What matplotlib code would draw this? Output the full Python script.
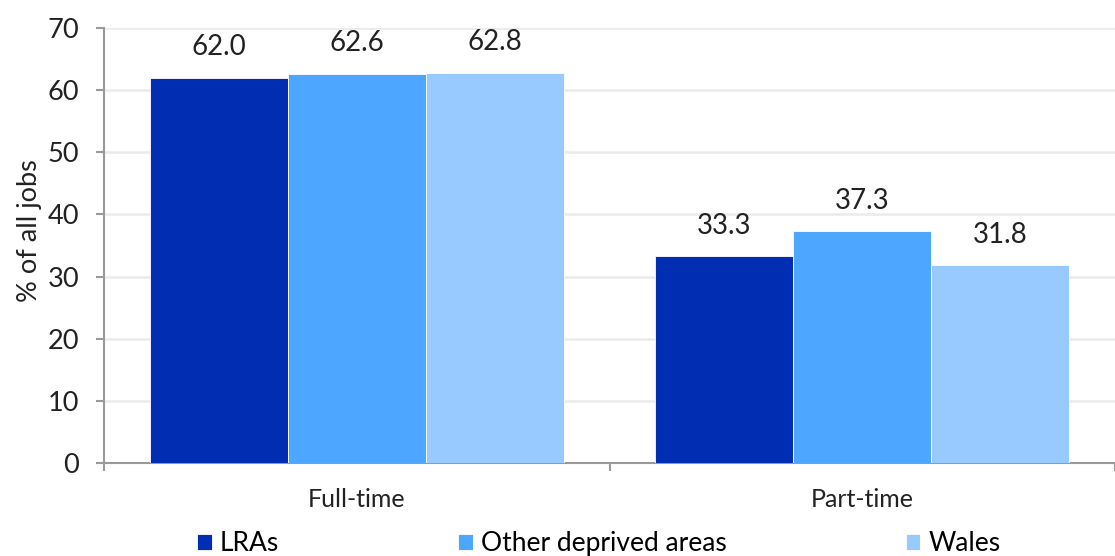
import numpy as np
import matplotlib
matplotlib.use("Agg")
import matplotlib.pyplot as plt

plt.rcParams["font.family"] = ["Lato", "DejaVu Sans"]

# share of all jobs by working pattern
categories = ["Full-time", "Part-time"]
series = ["LRAs", "Other deprived areas", "Wales"]
lras = [62.0, 33.3]
other_deprived = [62.6, 37.3]
wales = [62.8, 31.8]
colors = ["#002DB2", "#4DA6FF", "#99CAFF"]

values = [lras, other_deprived, wales]
x = np.arange(len(categories))
width = 0.273

fig = plt.figure(figsize=(11.15, 5.56), dpi=100)
ax = fig.add_axes([0.0933, 0.167, 0.9067, 0.783])

for i, (name, vals, col) in enumerate(zip(series, values, colors)):
    pos = x + (i - 1) * width
    bars = ax.bar(pos, vals, width, color=col, label=name,
                  edgecolor="white", linewidth=0.6, zorder=3)
    for b, v in zip(bars, vals):
        ax.annotate(f"{v:.1f}", (b.get_x() + b.get_width() / 2, v),
                    xytext=(0, 12.5), textcoords="offset points",
                    ha="center", va="bottom", fontsize=20, color="#222222")

ax.set_xlim(-0.5, 1.5)
ax.set_ylim(0, 70)
ax.set_yticks(range(0, 71, 10))
ax.tick_params(axis="y", labelsize=19.5, length=6, width=1.5, color="#999999",
               pad=12, labelcolor="#222222")
ax.set_xticks(x)
ax.set_xticklabels(categories)
ax.tick_params(axis="x", which="major", length=0, labelsize=18, pad=18,
               labelcolor="#222222")
ax.set_xticks([-0.5, 0.5, 1.5], minor=True)
ax.tick_params(axis="x", which="minor", length=6, width=1.5, color="#999999")

ax.grid(axis="y", color="#EBEBEB", linewidth=1.8, zorder=0)
ax.set_axisbelow(True)
for s in ["top", "right"]:
    ax.spines[s].set_visible(False)
for s in ["left", "bottom"]:
    ax.spines[s].set_color("#999999")
    ax.spines[s].set_linewidth(1.5)

ax.set_ylabel("% of all jobs", fontsize=19.5, color="#222222")
ax.yaxis.set_label_coords(-0.061, 0.535)

fig.legend(loc="center", bbox_to_anchor=(0.537, 0.022), ncol=3, frameon=False,
           fontsize=19, handlelength=0.55, handleheight=0.55,
           handletextpad=0.3, columnspacing=6.8, borderpad=0)

fig.savefig("out.png", dpi=100)
